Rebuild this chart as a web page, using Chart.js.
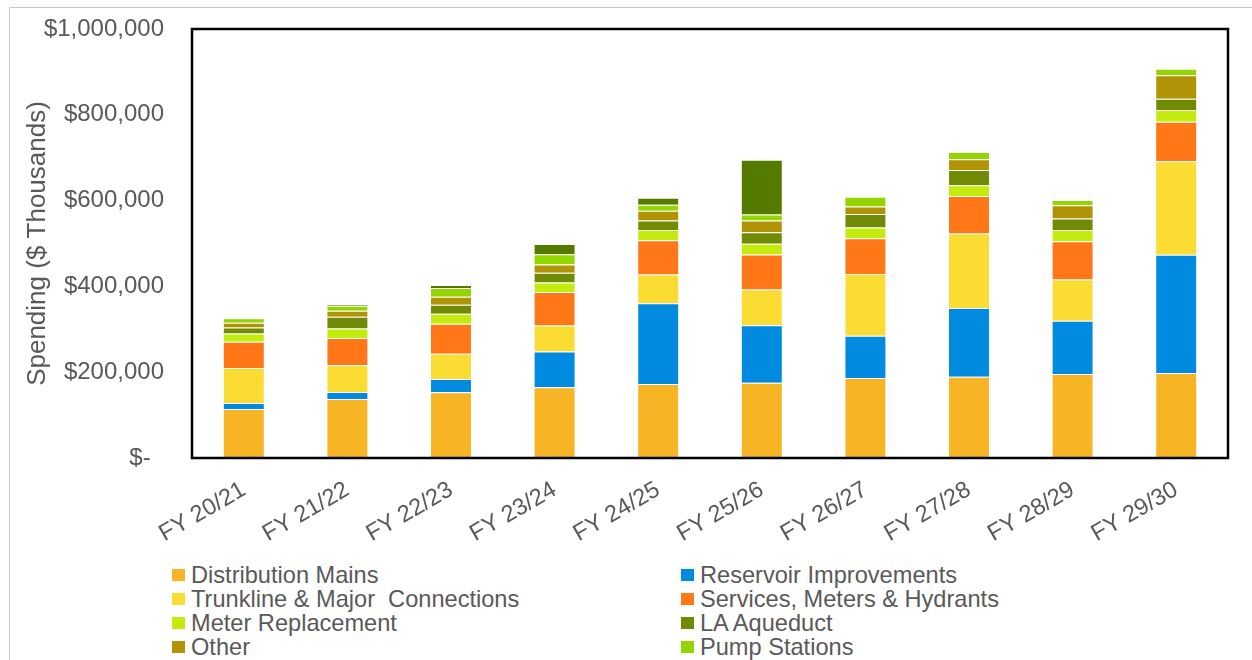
<!DOCTYPE html>
<html>
<head>
<meta charset="utf-8">
<script src="https://cdn.jsdelivr.net/npm/chart.js@4.4.1/dist/chart.umd.min.js"></script>
<style>
  html, body { margin: 0; padding: 0; background: #fff; }
  #wrap { position: relative; width: 1252px; height: 660px; overflow: hidden; font-family: 'Liberation Sans', Arial, sans-serif; }
  #frame { position: absolute; left: 9px; top: 7px; right: -5px; bottom: -5px; border-top: 1px solid #c8c8c8; border-left: 1px solid #c8c8c8; }
  #chartBox { position: absolute; left: 0; top: 0; width: 1252px; height: 560px; }
  #legend { position: absolute; left: 172px; top: 563px; display: grid; grid-template-columns: 509px 509px; row-gap: 0; }
  .lg-item { display: flex; align-items: center; height: 24px; font-size: 23.6px; color: #595959; white-space: pre; }
  .lg-box { width: 13px; height: 12px; margin-right: 6px; flex: none; }
</style>
</head>
<body>
<div id="wrap">
  <div id="frame"></div>
  <div id="chartBox"><canvas id="spendChart" width="1252" height="560"></canvas></div>
  <div id="legend"></div>
</div>
<script>
// values in $ thousands
const categories = ['FY 20/21', 'FY 21/22', 'FY 22/23', 'FY 23/24', 'FY 24/25', 'FY 25/26', 'FY 26/27', 'FY 27/28', 'FY 28/29', 'FY 29/30'];
const distributionMains = [114000, 137500, 153000, 165000, 172500, 175500, 186500, 189500, 196000, 198000];
const reservoirImprovements = [14000, 16500, 31000, 83000, 188000, 134000, 98500, 160000, 124000, 276000];
const trunkline = [82000, 62000, 59000, 61000, 67000, 83000, 144000, 174000, 96000, 217500];
const servicesMeters = [61000, 64000, 70000, 78000, 80000, 82000, 83000, 87000, 89000, 92500];
const meterReplacement = [19000, 22000, 23000, 22000, 24000, 25000, 25500, 25000, 26500, 27000];
const laAqueduct = [14000, 27000, 21000, 23000, 22000, 27000, 31500, 36000, 26500, 26500];
const other = [11000, 14000, 19000, 19000, 23000, 27000, 17500, 25000, 31000, 54500];
const pumpStations = [11000, 12000, 20000, 24000, 14000, 14000, 22500, 17000, 12500, 15500];
const unlisted = [0, 3000, 7000, 24000, 16000, 128000, 0, 0, 0, 0]; // dark green cap, not in legend
const yTicks = [0, 200000, 400000, 600000, 800000, 1000000];

const seriesDefs = [
    { label: 'Distribution Mains', data: distributionMains, color: '#f7b526' },
    { label: 'Reservoir Improvements', data: reservoirImprovements, color: '#008ae0' },
    { label: 'Trunkline & Major  Connections', data: trunkline, color: '#fadc32' },
    { label: 'Services, Meters & Hydrants', data: servicesMeters, color: '#ff7716' },
    { label: 'Meter Replacement', data: meterReplacement, color: '#c4eb0e' },
    { label: 'LA Aqueduct', data: laAqueduct, color: '#728b07' },
    { label: 'Other', data: other, color: '#b09306' },
    { label: 'Pump Stations', data: pumpStations, color: '#92d500' },
    { label: '', data: unlisted, color: '#547b00' }
];

const FONT = "'Liberation Sans', Arial, sans-serif";
const GREY = '#595959';

const plotFrame = {
    id: 'plotFrame',
    afterDatasetsDraw(chart) {
        const { ctx, chartArea } = chart;
        ctx.save();
        ctx.strokeStyle = '#000';
        ctx.lineWidth = 2.5;
        ctx.strokeRect(chartArea.left, chartArea.top, chartArea.right - chartArea.left, chartArea.bottom - chartArea.top);
        ctx.restore();
    }
};

const ctx = document.getElementById('spendChart').getContext('2d');
const spendChart = new Chart(ctx, {
    type: 'bar',
    data: {
        labels: categories,
        datasets: seriesDefs.map(s => ({
            label: s.label,
            data: s.data,
            backgroundColor: s.color,
            borderColor: 'rgba(255,255,255,0.35)',
            borderWidth: 1,
            categoryPercentage: 1,
            barPercentage: 0.405
        }))
    },
    options: {
        responsive: false,
        animation: false,
        devicePixelRatio: 1,
        layout: { padding: { top: 29, right: 24, left: 0, bottom: 0 } },
        plugins: {
            legend: { display: false },
            tooltip: { enabled: false }
        },
        scales: {
            x: {
                stacked: true,
                grid: { display: false, drawTicks: false },
                border: { display: false },
                ticks: {
                    color: GREY,
                    font: { family: FONT, size: 23.5 },
                    minRotation: 30,
                    maxRotation: 30,
                    padding: 18
                },
                afterFit(scale) { scale.height = 560 - 458; }
            },
            y: {
                stacked: true,
                min: 0,
                max: 1000000,
                grid: { display: false, drawTicks: false },
                border: { display: false },
                afterBuildTicks(scale) { scale.ticks = yTicks.map(v => ({ value: v })); },
                ticks: {
                    color: GREY,
                    font: { family: FONT, size: 24 },
                    padding: 28,
                    callback: v => v === 0 ? '$-  ' : '$' + v.toLocaleString('en-US')
                },
                title: {
                    display: true,
                    text: 'Spending ($ Thousands)',
                    color: GREY,
                    font: { family: FONT, size: 26 },
                    padding: { top: 22, bottom: 0 }
                },
                afterFit(scale) {
                    scale.width = 192;
                    // tick padding is meant horizontally only
                    scale.paddingTop = 10;
                    scale.paddingBottom = 10;
                }
            }
        }
    },
    plugins: [plotFrame]
});

// two-column legend, built from the labelled datasets
const legendEl = document.getElementById('legend');
seriesDefs.filter(s => s.label).forEach(s => {
    const item = document.createElement('div');
    item.className = 'lg-item';
    item.innerHTML = `<span class="lg-box" style="background:${s.color}"></span>${s.label.replace(/&/g, '&amp;')}`;
    legendEl.appendChild(item);
});
</script>
</body>
</html>
